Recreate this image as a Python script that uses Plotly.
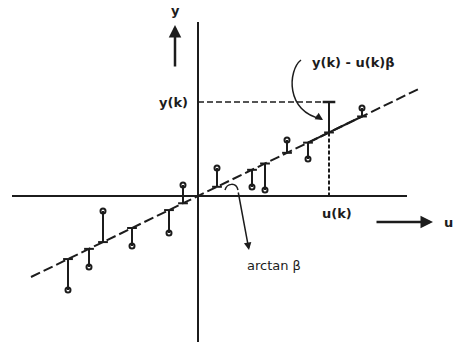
import plotly.graph_objects as go

# Mesures (u, y) et pente de la droite des moindres carrés
U = [-13.0, -10.9, -9.5, -6.6, -2.9, -1.5, 1.9, 5.4, 6.7, 8.9, 11.0, 13.1, 16.4]
Y = [-9.4, -7.1, -1.5, -5.0, -3.7, 1.1, 2.8, 0.9, 0.6, 5.6, 3.7, 9.4, 8.8]
BETA = 0.485
K = 11                      # indice du point mis en évidence, u(k), y(k)
U_LINE = [-16.7, 22.0]      # étendue de la droite y = beta * u
U_SOLID = [10.9, 16.5]      # partie tracée en trait plein

INK = '#1c1c1c'
FONT = 'DejaVu Sans'

fig = go.Figure()

# --- droite y = beta u ---
fig.add_trace(go.Scatter(x=U_LINE, y=[BETA * u for u in U_LINE], mode='lines',
                         line=dict(color=INK, width=2, dash='10px,4px')))
fig.add_trace(go.Scatter(x=U_SOLID, y=[BETA * u for u in U_SOLID], mode='lines',
                         line=dict(color=INK, width=2)))

# --- résidus : tiges verticales entre la droite et les mesures ---
sx, sy = [], []
for u, y in zip(U, Y):
    sx += [u, u, None]
    sy += [BETA * u, y, None]
fig.add_trace(go.Scatter(x=sx, y=sy, mode='lines', line=dict(color=INK, width=2)))

# petits pieds sur la droite
fig.add_trace(go.Scatter(x=U, y=[BETA * u for u in U], mode='markers',
                         marker=dict(symbol='line-ew', size=7, color=INK,
                                     line=dict(color=INK, width=2))))

# mesures (petits cercles), sauf le point k marqué d'une barre
others = [i for i in range(len(U)) if i != K]
fig.add_trace(go.Scatter(x=[U[i] for i in others], y=[Y[i] for i in others], mode='markers',
                         marker=dict(symbol='circle-open', size=5, color=INK,
                                     line=dict(color=INK, width=2))))
fig.add_trace(go.Scatter(x=[U[K]], y=[Y[K]], mode='markers',
                         marker=dict(symbol='line-ew', size=9, color=INK,
                                     line=dict(color=INK, width=2.5))))

# --- pointillés vers y(k) et u(k) ---
fig.add_trace(go.Scatter(x=[0, U[K]], y=[Y[K], Y[K]], mode='lines',
                         line=dict(color=INK, width=1.5, dash='6px,3px')))
fig.add_trace(go.Scatter(x=[U[K], U[K]], y=[BETA * U[K], 0], mode='lines',
                         line=dict(color=INK, width=2, dash='4px,2px')))

# --- axes ---
shapes = [
    dict(type='line', x0=0, x1=0, y0=-14.6, y1=17.4, line=dict(color=INK, width=2)),
    dict(type='line', x0=-18.6, x1=20.9, y0=0, y1=0, line=dict(color=INK, width=2)),
    # flèche courbe vers le résidu y(k) - u(k)beta
    dict(type='path', path='M 10.3,13.6 C 9.0,12.6 8.7,8.4 12.4,7.7',
         line=dict(color=INK, width=1.5)),
    # petit arc de l'angle
    dict(type='path', path='M 2.7,0.6 C 2.9,1.3 3.8,1.4 4.0,0.6',
         line=dict(color=INK, width=1.5)),
]

txt = dict(family=FONT, size=13, color=INK)
annotations = [
    dict(x=-2.3, y=18.6, text='<b>y</b>', showarrow=False, font=txt),
    dict(x=-2.3, y=17.1, ax=0, ay=43, showarrow=True, arrowhead=2, arrowsize=1,
         arrowwidth=2.5, arrowcolor=INK, text=''),
    dict(x=-0.8, y=Y[K], text='<b>y(k)</b>', showarrow=False, xanchor='right', font=txt),
    dict(x=U[K] + 0.8, y=-1.7, text='<b>u(k)</b>', showarrow=False, font=txt),
    dict(x=23.5, y=-2.6, ax=-58, ay=0, showarrow=True, arrowhead=2, arrowsize=1,
         arrowwidth=2.5, arrowcolor=INK, text=''),
    dict(x=25.0, y=-2.6, text='<b>u</b>', showarrow=False, font=txt),
    dict(x=15.5, y=13.4, text='<b>y(k) - u(k)β</b>', showarrow=False, font=txt),
    dict(x=12.5, y=7.6, ax=-8, ay=-5, showarrow=True, arrowhead=2, arrowsize=1,
         arrowwidth=1.5, arrowcolor=INK, text=''),
    dict(x=5.1, y=-5.4, ax=-11, ay=-59, showarrow=True, arrowhead=2, arrowsize=1,
         arrowwidth=1.5, arrowcolor=INK, text=''),
    dict(x=7.6, y=-6.9, text='arctan β', showarrow=False, font=dict(family=FONT, size=13, color=INK)),
]

fig.update_layout(
    width=457, height=346,
    margin=dict(l=0, r=0, t=0, b=0),
    paper_bgcolor='white', plot_bgcolor='white',
    showlegend=False,
    xaxis=dict(range=[-19.8, 25.9], visible=False),
    yaxis=dict(range=[-15.0, 19.6], visible=False),
    shapes=shapes,
    annotations=annotations,
)

# pas de marge de page : la figure occupe toute la fenêtre
fig.write_html("out.html", config={'displayModeBar': False},
               post_script="document.body.style.margin='0';document.body.style.overflow='hidden';")
